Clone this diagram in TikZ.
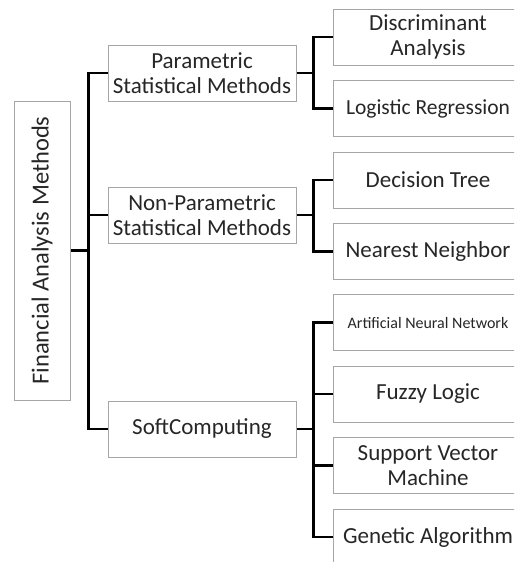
\documentclass[tikz,border=0pt]{standalone}
\usepackage{fontspec}
\setmainfont{Carlito}
\usepackage{tikz}

\begin{document}
\begin{tikzpicture}[x=1pt, y=-1pt, font=\fontsize{23}{25}\selectfont, every text node part/.style={align=center},
  box/.style={draw=black!35, line width=1pt, minimum width=188pt, minimum height=56pt, inner sep=0pt, text=black!85},
  link/.style={line width=2.2pt}]
\useasboundingbox (0,0) rectangle (514,562);
\clip (0,0) rectangle (514,562);

\node [box, rotate=90, minimum width=299pt, font=\fontsize{24.5}{26}\selectfont] (root) at (42,250.5) {Financial Analysis Methods};

\node [box] (param) at (202,73) {Parametric\\Statistical Methods};
\node [box] (nonparam) at (202,215) {Non-Parametric\\Statistical Methods};
\node [box] (soft) at (202,429) {SoftComputing};

\node [box, minimum width=190pt] (disc) at (428,37) {Discriminant\\Analysis};
\node [box, minimum width=190pt, font=\fontsize{21.5}{24}\selectfont] (logit) at (428,108.5) {Logistic Regression};
\node [box, minimum width=190pt] (dtree) at (428,180) {Decision Tree};
\node [box, minimum width=190pt] (nnb) at (428,251.5) {Nearest Neighbor};
\node [box, minimum width=190pt, font=\fontsize{16}{18}\selectfont] (ann) at (428,322.5) {Artificial Neural Network};
\node [box, minimum width=190pt] (fuzzy) at (428,394) {Fuzzy Logic};
\node [box, minimum width=190pt] (svm) at (428,465.5) {Support Vector\\Machine};
\node [box, minimum width=190pt] (ga) at (428,537) {Genetic Algorithm};

% root to first level
\draw [link] (root.south) -- ++(19,0);
\draw [link] (param.west) -- ++(-19,0) |- (soft.west);
\draw [link] (nonparam.west) -- ++(-19,0);

% first level to second level
\draw [link] (param.east) -- ++(18,0);
\draw [link] (disc.west) -- ++(-19,0) |- (logit.west);
\draw [link] (nonparam.east) -- ++(18,0);
\draw [link] (dtree.west) -- ++(-19,0) |- (nnb.west);
\draw [link] (soft.east) -- ++(18,0);
\draw [link] (ann.west) -- ++(-19,0) |- (ga.west);
\draw [link] (fuzzy.west) -- ++(-19,0);
\draw [link] (svm.west) -- ++(-19,0);

\end{tikzpicture}
\end{document}
